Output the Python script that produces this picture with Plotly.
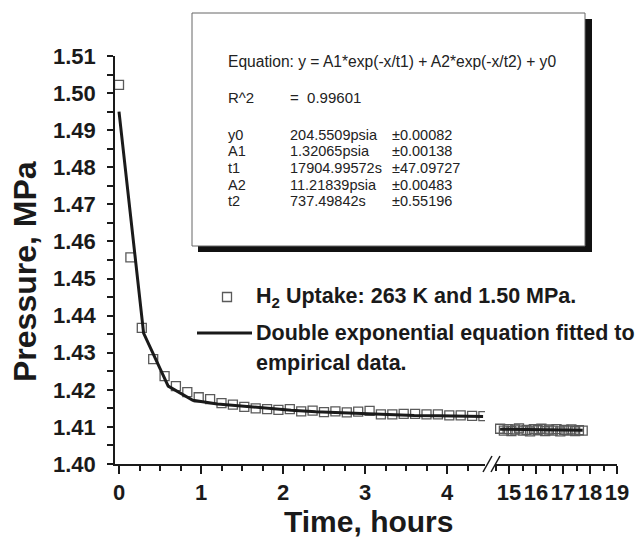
import plotly.graph_objects as go

# ---------------- data ----------------
# Measured H2 uptake pressure, MPa; time in hours (first segment 0-4.44 h)
t_early = [0.000, 0.139, 0.278, 0.417, 0.556, 0.694, 0.833, 0.972, 1.111, 1.250,
           1.389, 1.528, 1.667, 1.806, 1.944, 2.083, 2.222, 2.361, 2.500, 2.639,
           2.778, 2.917, 3.056, 3.194, 3.333, 3.472, 3.611, 3.750, 3.889, 4.028,
           4.167, 4.306, 4.444]
p_early = [1.5022, 1.4557, 1.4367, 1.4283, 1.4237, 1.4210, 1.4194, 1.4180, 1.4175, 1.4164,
           1.4160, 1.4154, 1.4150, 1.4148, 1.4146, 1.4148, 1.4142, 1.4144, 1.4140, 1.4142,
           1.4139, 1.4141, 1.4143, 1.4134, 1.4134, 1.4135, 1.4135, 1.4134, 1.4134, 1.4131,
           1.4131, 1.4130, 1.4129]
# second segment (after the axis break)
t_late = [14.67, 14.81, 14.95, 15.09, 15.23, 15.37, 15.51, 15.65, 15.78, 15.92,
          16.06, 16.20, 16.34, 16.48, 16.62, 16.76, 16.90, 17.04, 17.17, 17.31,
          17.45, 17.59, 17.73]
p_late = [1.4095, 1.4090, 1.4094, 1.4089, 1.4093, 1.4096, 1.4090, 1.4092, 1.4088, 1.4094,
          1.4091, 1.4095, 1.4089, 1.4093, 1.4090, 1.4094, 1.4088, 1.4092, 1.4090, 1.4093,
          1.4089, 1.4091, 1.4090]

# fitted double-exponential curve (vertices as drawn)
fit_t_early = [0.0, 0.3, 0.6, 0.9, 1.2, 1.5, 1.8, 2.1, 2.4, 2.7, 3.0, 3.3, 3.6, 3.9, 4.2, 4.44]
fit_p_early = [1.4950, 1.4353, 1.4210, 1.4172, 1.4162, 1.4156, 1.4150, 1.4145, 1.4141,
               1.4138, 1.4135, 1.4133, 1.4131, 1.4130, 1.4129, 1.4128]
fit_t_late = [14.67, 15.5, 16.5, 17.73]
fit_p_late = [1.4094, 1.4093, 1.4092, 1.4091]

y_ticks = [1.40, 1.41, 1.42, 1.43, 1.44, 1.45, 1.46, 1.47, 1.48, 1.49, 1.50, 1.51]
x1_ticks = [0, 1, 2, 3, 4]
x2_ticks = [15, 16, 17, 18, 19]

legend_data = "H<sub>2</sub> Uptake: 263 K and 1.50 MPa."
legend_fit_1 = "Double exponential equation fitted to"
legend_fit_2 = "empirical data."

box_equation = "Equation: y = A1*exp(-x/t1) + A2*exp(-x/t2) + y0"
box_r2_label, box_r2_value = "R^2", "=  0.99601"
box_params = ["y0", "A1", "t1", "A2", "t2"]
box_values = ["204.5509psia", "1.32065psia", "17904.99572s", "11.21839psia", "737.49842s"]
box_errors = ["±0.00082", "±0.00138", "±47.09727", "±0.00483", "±0.55196"]

# ---------------- layout geometry ----------------
W, H = 640, 543
L, R, T, B = 115, 23, 56, 79
PW, PH = W - L - R, H - T - B

def px(x):
    return (x - L) / PW

def py(y):
    return (H - B - y) / PH

FONT = "Liberation Sans, Arial, sans-serif"
INK = "#1a1a1a"
MARK = dict(symbol="square-open", size=9, color="#5a5a5a", line=dict(width=1.3))
LINE = dict(color=INK, width=3)

fig = go.Figure()
fig.add_trace(go.Scatter(x=t_early, y=p_early, mode="markers", marker=MARK,
                         xaxis="x", yaxis="y", showlegend=False))
fig.add_trace(go.Scatter(x=fit_t_early, y=fit_p_early, mode="lines", line=LINE,
                         xaxis="x", yaxis="y", showlegend=False))
fig.add_trace(go.Scatter(x=t_late, y=p_late, mode="markers", marker=MARK,
                         xaxis="x2", yaxis="y", showlegend=False))
fig.add_trace(go.Scatter(x=fit_t_late, y=fit_p_late, mode="lines", line=LINE,
                         xaxis="x2", yaxis="y", showlegend=False))

tickfont = dict(family=FONT, size=22, color=INK, weight="bold")
axcommon = dict(showgrid=False, zeroline=False, showline=True, linecolor=INK,
                linewidth=1.5, ticks="outside", tickcolor=INK, tickwidth=1.5,
                tickfont=tickfont)

x1_end_px, x2_start_px = 485, 495
x0_px, x_scale = 119, 82.0
x2_15_px, x2_scale = 509, 27.0

fig.update_layout(
    width=W, height=H,
    margin=dict(l=L, r=R, t=T, b=B),
    paper_bgcolor="white", plot_bgcolor="white",
    font=dict(family=FONT, color=INK),
    showlegend=False,
    xaxis=dict(axcommon, domain=[0, px(x1_end_px)],
               range=[(L - x0_px) / x_scale, (x1_end_px - x0_px) / x_scale],
               tickvals=x1_ticks, ticklen=8,
               minor=dict(dtick=0.25, ticks="outside", ticklen=5, tickcolor=INK, tickwidth=1.5),
               anchor="y", ticklabelstandoff=0),
    xaxis2=dict(axcommon, domain=[px(x2_start_px), 1],
                range=[15 - (x2_15_px - x2_start_px) / x2_scale, 19],
                tickvals=x2_ticks, ticklen=8,
                minor=dict(dtick=0.5, ticks="outside", ticklen=5, tickcolor=INK, tickwidth=1.5),
                anchor="y", ticklabelstandoff=0),
    yaxis=dict(axcommon, range=[1.40, 1.51], tickvals=y_ticks, tickformat=".2f",
               ticklen=6, anchor="x",
               minor=dict(dtick=0.005, ticks="outside", ticklen=6, tickcolor=INK, tickwidth=1.5),
               ticklabelstandoff=7),
)

# axis titles
fig.add_annotation(text="<b>Pressure, MPa</b>", xref="paper", yref="paper",
                   x=px(24.5), y=py(271.5), xanchor="center", yanchor="middle",
                   textangle=-90, showarrow=False,
                   font=dict(family=FONT, size=32, color=INK))
fig.add_annotation(text="<b>Time, hours</b>", xref="paper", yref="paper",
                   x=px(368), y=py(521), xanchor="center", yanchor="middle",
                   showarrow=False, font=dict(family=FONT, size=30, color=INK))

# axis break marks
for x_a, x_b in [(483, 492), (491, 500)]:
    fig.add_shape(type="line", xref="paper", yref="paper",
                  x0=px(x_a), y0=py(472), x1=px(x_b), y1=py(456),
                  line=dict(color=INK, width=1.5))

# text box with shadow
fig.add_shape(type="rect", xref="paper", yref="paper",
              x0=px(198), y0=py(252), x1=px(592), y1=py(19),
              fillcolor="#111111", line=dict(width=0))
fig.add_shape(type="rect", xref="paper", yref="paper",
              x0=px(192), y0=py(246), x1=px(585), y1=py(13),
              fillcolor="white", line=dict(color="#666666", width=1))

boxfont = dict(family=FONT, size=14.5, color="#222222")
def box_text(txt, x, y, size=14.5):
    fig.add_annotation(text=txt, xref="paper", yref="paper", x=px(x), y=py(y),
                       xanchor="left", yanchor="middle", showarrow=False,
                       font=dict(boxfont, size=size), borderpad=0)

box_text(box_equation, 227, 62, 15.6)
box_text(box_r2_label, 227, 98, 15)
box_text(box_r2_value, 289, 98, 15)
row_y = [135, 151.5, 168, 184.5, 201]
for name, val, err, yy in zip(box_params, box_values, box_errors, row_y):
    box_text(name, 227, yy)
    box_text(val, 289, yy)
    box_text(err, 391, yy)

# legend (drawn manually)
legfont = dict(family=FONT, size=21.5, color=INK)
fig.add_shape(type="rect", xref="paper", yref="paper",
              x0=px(222.5), y0=py(301.5), x1=px(231.5), y1=py(292.5),
              line=dict(color="#5a5a5a", width=1.3), fillcolor="rgba(0,0,0,0)")
fig.add_shape(type="line", xref="paper", yref="paper",
              x0=px(197), y0=py(333), x1=px(252), y1=py(333), line=LINE)
for txt, yy in [(legend_data, 297), (legend_fit_1, 333), (legend_fit_2, 363)]:
    fig.add_annotation(text="<b>" + txt + "</b>", xref="paper", yref="paper",
                       x=px(255), y=py(yy), xanchor="left", yanchor="middle",
                       showarrow=False, font=legfont, borderpad=0)

fig.write_html("out.html", config={"displayModeBar": False},
               post_script="document.body.style.margin='0';")
